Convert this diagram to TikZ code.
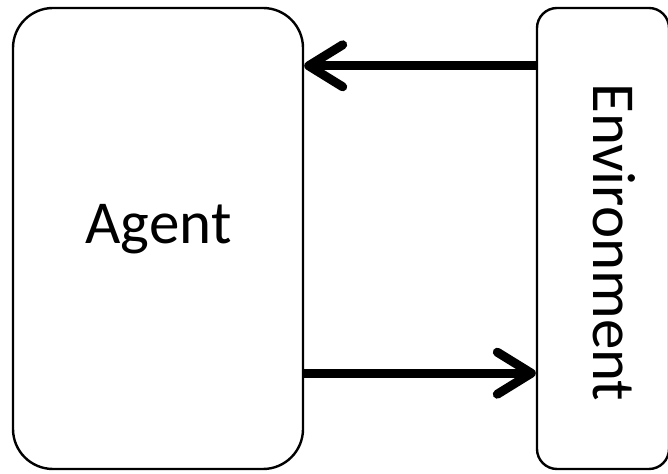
\documentclass[tikz,border=0pt]{standalone}
\usepackage{fontspec}
\setmainfont{Carlito}
\usetikzlibrary{calc,positioning,arrows.meta}
\tikzset{
  % node styles (the two blocks and their labels)
  block/.style={rectangle,draw=black,line width=2.4pt,fill=white,inner sep=0pt},
  blocklabel/.style={inner sep=0pt,font=\fontsize{61}{63}\selectfont},
  % connector style
  flow/.style={line width=9pt,-{Straight Barb[length=34pt,width=42pt,line width=9pt,round]}},
}
\begin{document}
\begin{tikzpicture}[x=1pt,y=1pt]
  \useasboundingbox (0,0) rectangle (668,473);
  \node[block,rounded corners=40pt,minimum width=290pt,minimum height=461pt] (agent) at (158,234.5) {};
  \node[block,rounded corners=20pt,minimum width=132pt,minimum height=461pt] (env) at (603,234.5) {};
  \node[blocklabel] (agentlabel) at (158.5,244) {Agent};
  \node[blocklabel,rotate=-90] (envlabel) at (614,230.5) {Environment};
  \draw[flow] ([yshift=-59pt]env.north west) -- ([yshift=-59pt]agent.north east);
  \draw[flow] ([yshift=97pt]agent.south east) -- ([yshift=97pt]env.south west);
\end{tikzpicture}
\end{document}
